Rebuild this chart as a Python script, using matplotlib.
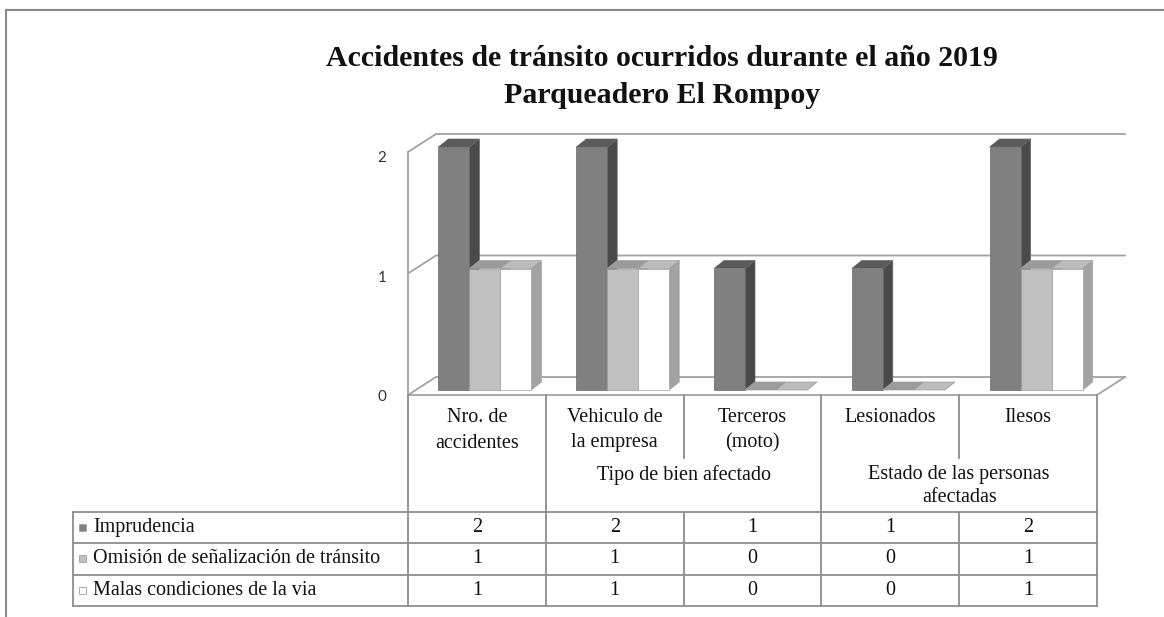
import matplotlib
matplotlib.use("Agg")
import matplotlib.pyplot as plt
from matplotlib.lines import Line2D
from matplotlib.patches import Polygon, Rectangle

# --- data ------------------------------------------------------------------
categories = ["Nro. de\naccidentes", "Vehiculo de\nla empresa", "Terceros\n(moto)",
              "Lesionados", "Ilesos"]
group_labels = ["Tipo de bien afectado", "Estado de las personas\nafectadas"]
group_spans = [(1, 2), (3, 4)]  # first / last category index of each group
series_names = ["Imprudencia", "Omisión de señalización de tránsito",
                "Malas condiciones de la via"]
imprudencia = [2, 2, 1, 1, 2]
omision = [1, 1, 0, 0, 1]
malas_condiciones = [1, 1, 0, 0, 1]
y_ticks = [0, 1, 2]
title_lines = ["Accidentes de tránsito ocurridos durante el año 2019",
               "Parqueadero El Rompoy"]

# --- styling ----------------------------------------------------------------
front_colors = ["#808080", "#c0c0c0", "#ffffff"]
top_colors = ["#5a5a5a", "#9b9b9b", "#bcbcbc"]
side_colors = ["#4a4a4a", "#a3a3a3", "#a3a3a3"]
edge_colors = ["#686868", "#a0a0a0", "#a0a0a0"]
grid_color = "#a3a3a3"
table_color = "#8e8e8e"
serif = ["Liberation Serif", "DejaVu Serif"]

W, H = 1164, 617
fig = plt.figure(figsize=(W / 100, H / 100), dpi=100)


def fig_xy(x, y):
    """pixel position (origin top-left) -> figure fraction"""
    return x / W, 1 - y / H


def fig_line(xs, ys, **kw):
    fx = [x / W for x in xs]
    fy = [1 - y / H for y in ys]
    fig.add_artist(Line2D(fx, fy, **kw))


# front plane of the bars, in pixels
PL, PR, PB, PT = 416, 1105, 390, 147
ax = fig.add_axes([PL / W, 1 - PB / H, (PR - PL) / W, (PB - PT) / H])
n_cat = len(categories)
ax.set_xlim(-0.5, n_cat - 0.5)
ax.set_ylim(0, max(y_ticks))
ax.axis("off")

sx = n_cat / (PR - PL)
sy = max(y_ticks) / (PB - PT)


def shift(x, y, dx, dy):
    """move a data point by a pixel offset (dy up)"""
    return x + dx * sx, y + dy * sy


FRONT = (-8, -5)      # front edge of floor / walls
BACK = (20, 13)       # back wall
BAR_DEPTH = (10, 8)

x_lo, x_hi = -0.5, n_cat - 0.5
wall_kw = dict(color=grid_color, lw=1.3, clip_on=False, zorder=1,
               solid_joinstyle="miter")
for v in y_ticks:
    pf = shift(x_lo, v, *FRONT)
    pl = shift(x_lo, v, *BACK)
    pr = shift(x_hi, v, *BACK)
    ax.plot([pf[0], pl[0], pr[0]], [pf[1], pl[1], pr[1]], **wall_kw)
    lx, ly = shift(x_lo, v, -34, -7 - 2 * v)
    ax.text(lx, ly, str(v), ha="center", va="center", fontsize=11,
            family=["Lato", "DejaVu Sans"], color="#333333")

a = shift(x_lo, 0, *FRONT)
b = shift(x_lo, max(y_ticks), *FRONT)
c = shift(x_hi, 0, *FRONT)
d = shift(x_hi, 0, *BACK)
ax.plot([b[0], a[0], c[0], d[0]], [b[1], a[1], c[1], d[1]], **wall_kw)

# --- 3d clustered columns ---------------------------------------------------
values = [imprudencia, omision, malas_condiciones]
n_ser = len(values)
bw = 0.225
z = 3
for ci in range(n_cat):
    for s, vals in enumerate(values):
        x0 = ci - n_ser * bw / 2 + s * bw
        x1 = x0 + bw
        h = vals[ci]
        side = [(x1, 0), (x1, h), shift(x1, h, *BAR_DEPTH), shift(x1, 0, *BAR_DEPTH)]
        top = [(x0, h), (x1, h), shift(x1, h, *BAR_DEPTH), shift(x0, h, *BAR_DEPTH)]
        ax.add_patch(Polygon(side, closed=True, fc=side_colors[s], ec=edge_colors[s],
                             lw=0.5, clip_on=False, zorder=z))
        ax.add_patch(Polygon(top, closed=True, fc=top_colors[s], ec=edge_colors[s],
                             lw=0.5, clip_on=False, zorder=z))
        if h > 0:
            ax.bar(x0, h, width=bw, align="edge", color=front_colors[s],
                   edgecolor=edge_colors[s], lw=0.5, clip_on=False, zorder=z + 1)
        z += 2

# --- data table -------------------------------------------------------------
edges = []
for i in range(n_cat + 1):
    xd, yd = ax.transData.transform(shift(i - 0.5, 0, *FRONT))
    edges.append(xd)
tab_top = H - yd
head_bottom = 512
row_h = 31.3
leg_left = 73
rows_y = [head_bottom + k * row_h for k in range(n_ser + 1)]
tab_bottom = rows_y[-1]
partial_bottom = 458

line_kw = dict(color=table_color, lw=1.3)
inner = [end for (start, end) in group_spans]
for i, xe in enumerate(edges):
    if i in inner:
        fig_line([xe, xe], [tab_top, partial_bottom], **line_kw)
        fig_line([xe, xe], [head_bottom, tab_bottom], **line_kw)
    else:
        fig_line([xe, xe], [tab_top, tab_bottom], **line_kw)
fig_line([leg_left, leg_left], [head_bottom, tab_bottom], **line_kw)
for yr in rows_y:
    fig_line([leg_left, edges[-1]], [yr, yr], **line_kw)

txt_kw = dict(family=serif, fontsize=14.5, color="#111111", ha="center", va="center")
centers = [(edges[i] + edges[i + 1]) / 2 for i in range(n_cat)]
for ci, lab in enumerate(categories):
    for k, part in enumerate(lab.split("\n")):
        fig.text(*fig_xy(centers[ci], 418 + 25 * k), part, **txt_kw)
for (start, end), lab in zip(group_spans, group_labels):
    gx = (edges[start] + edges[end + 1]) / 2
    for k, part in enumerate(lab.split("\n")):
        fig.text(*fig_xy(gx, 475 + 23 * k), part, **txt_kw)

for s, (name, vals) in enumerate(zip(series_names, values)):
    yc = (rows_y[s] + rows_y[s + 1]) / 2
    fig.add_artist(Rectangle(fig_xy(79, yc + 3.5), 7 / W, 7 / H,
                             fc=front_colors[s], ec="#a0a0a0", lw=0.6))
    fig.text(*fig_xy(93, yc), name, **{**txt_kw, "ha": "left"})
    for ci, v in enumerate(vals):
        fig.text(*fig_xy(centers[ci], yc), str(v), **txt_kw)

# --- title and frame --------------------------------------------------------
for k, line in enumerate(title_lines):
    fig.text(*fig_xy(662, 66 + 37 * k), line, family=serif, fontsize=21.5,
             fontweight="bold", ha="center", va="baseline", color="#111111")

fig_line([6, W], [10, 10], color="#8a8a8a", lw=1.5)
fig_line([6, 6], [10, H], color="#8a8a8a", lw=1.5)

fig.savefig("out.png", dpi=100)
